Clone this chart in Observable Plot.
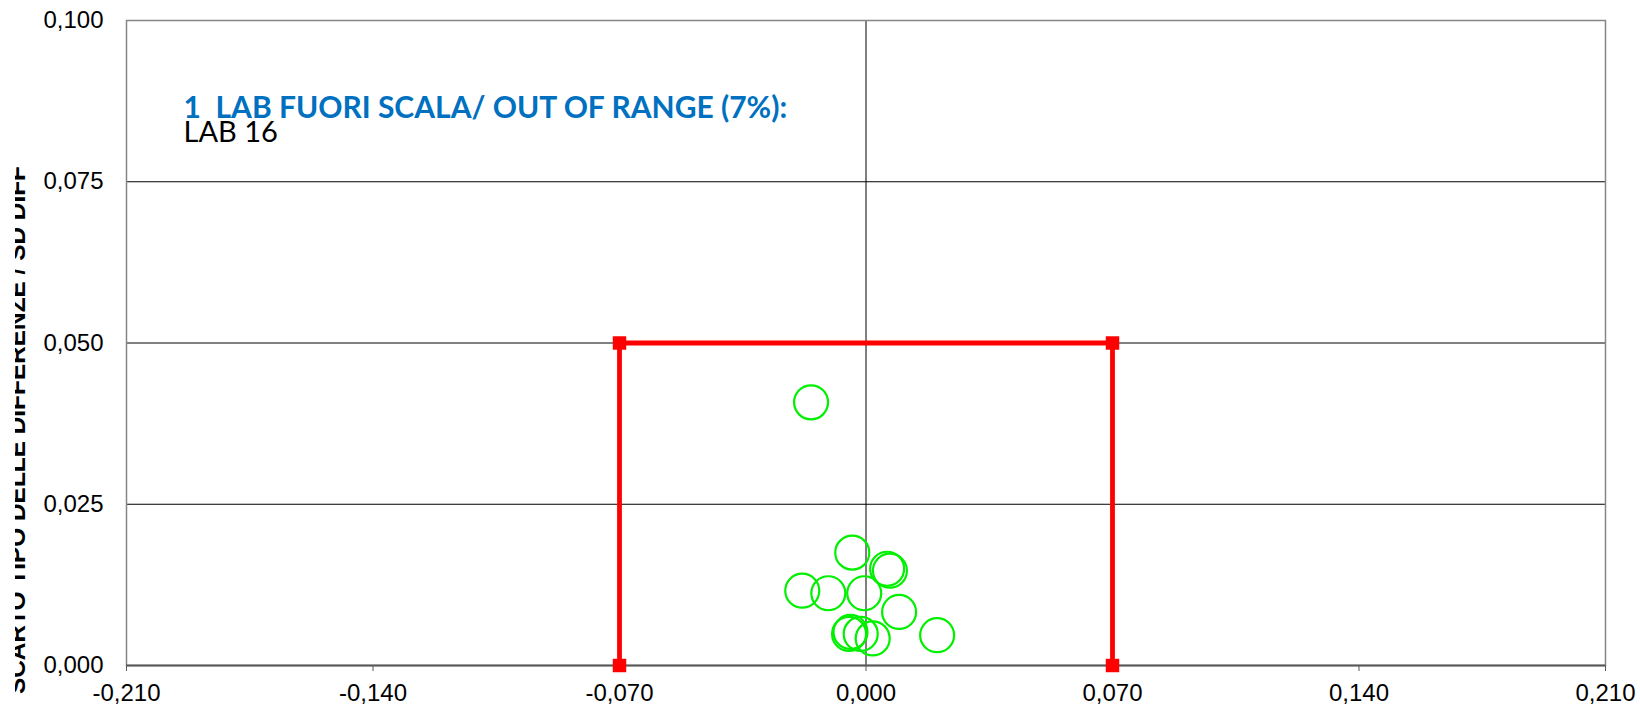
<!DOCTYPE html>
<html>
<head>
<meta charset="utf-8">
<script src="https://cdn.jsdelivr.net/npm/d3@7"></script>
<script src="https://cdn.jsdelivr.net/npm/@observablehq/plot@0.6"></script>
<style>
  html, body { margin: 0; padding: 0; background: #ffffff; }
  #chart { width: 1640px; height: 709px; }
</style>
</head>
<body>
<div id="chart"></div>
<script>
// ---- data ----
const labX = [-0.0156, -0.0039, 0.0060, 0.0068, -0.0181, -0.0107, -0.0005, 0.0094, 0.0202, -0.0048, -0.0044, -0.0015, 0.0019];
const labY = [0.0408, 0.0175, 0.0150, 0.0147, 0.0116, 0.0112, 0.0112, 0.0083, 0.0047, 0.0049, 0.0052, 0.0049, 0.0042];
const limitX = [-0.07, -0.07, 0.07, 0.07];
const limitY = [0, 0.05, 0.05, 0];
const xTicks = [-0.21, -0.14, -0.07, 0, 0.07, 0.14, 0.21];
const yTicks = [0, 0.025, 0.05, 0.075, 0.1];
const outTitle = "1  LAB FUORI SCALA/ OUT OF RANGE (7%):";
const outLabs = "LAB 16";
const yLabel = "SCARTO TIPO DELLE DIFFERENZE / SD DIFF";

const points = labX.map((x, i) => ({x, y: labY[i]}));
const limits = limitX.map((x, i) => ({x, y: limitY[i]}));

const itLocale = d3.formatLocale({decimal: ",", thousands: ".", grouping: [3], currency: ["", "€"], minus: "-"});
const fmt = itLocale.format(".3f");

const svg = Plot.plot({
  width: 1640,
  height: 709,
  marginLeft: 126,
  marginRight: 35,
  marginTop: 20,
  marginBottom: 44,
  style: {fontFamily: "'Liberation Sans', Arial, sans-serif", fontSize: "24px", background: "#ffffff", color: "#000000"},
  x: {domain: [-0.21, 0.21]},
  y: {domain: [0, 0.1]},
  marks: [
    Plot.ruleY(yTicks, {stroke: "#000000", strokeWidth: 1}),
    Plot.ruleX([0], {stroke: "#000000", strokeWidth: 1}),
    Plot.frame({stroke: "#868686", strokeWidth: 1.5}),
    Plot.ruleY([0], {stroke: "#595959", strokeWidth: 2}),
    Plot.axisX(xTicks, {tickFormat: fmt, tickSize: 6, tickPadding: 12, stroke: "#595959", label: null}),
    Plot.axisY(yTicks, {tickFormat: fmt, tickSize: 0, tickPadding: 23, label: null}),
    Plot.line(limits, {x: "x", y: "y", stroke: "#ff0000", strokeWidth: 4.8}),
    Plot.dot(limits, {x: "x", y: "y", symbol: "square", fill: "#ff0000", r: 7.6}),
    Plot.dot(points, {x: "x", y: "y", r: 17, stroke: "#00f000", strokeWidth: 2.2, fill: "none"}),
    Plot.text([outTitle], {frameAnchor: "top-left", dx: 57, dy: 97, lineAnchor: "bottom", textAnchor: "start",
      fill: "#0070c0", fontWeight: "bold", fontSize: 30, fontFamily: "Lato, 'Open Sans', sans-serif"}),
    Plot.text([outLabs], {frameAnchor: "top-left", dx: 57, dy: 121, lineAnchor: "bottom", textAnchor: "start",
      fill: "#000000", fontSize: 29, fontFamily: "Lato, 'Open Sans', sans-serif"})
  ]
});

// y-axis title, clipped at its left like in the reference
const s = d3.select(svg);
const defs = s.append("defs");
defs.append("clipPath").attr("id", "ylab-clip")
  .append("rect").attr("x", 15).attr("y", 0).attr("width", 1625).attr("height", 709);
s.append("g").attr("clip-path", "url(#ylab-clip)")
  .append("text")
  .attr("transform", "translate(25,430) rotate(-90)")
  .attr("text-anchor", "middle")
  .attr("font-family", "'Liberation Sans', Arial, sans-serif")
  .attr("font-weight", "bold")
  .attr("font-size", 24.4)
  .attr("fill", "#000000")
  .text(yLabel);

document.getElementById("chart").appendChild(svg);
</script>
</body>
</html>
